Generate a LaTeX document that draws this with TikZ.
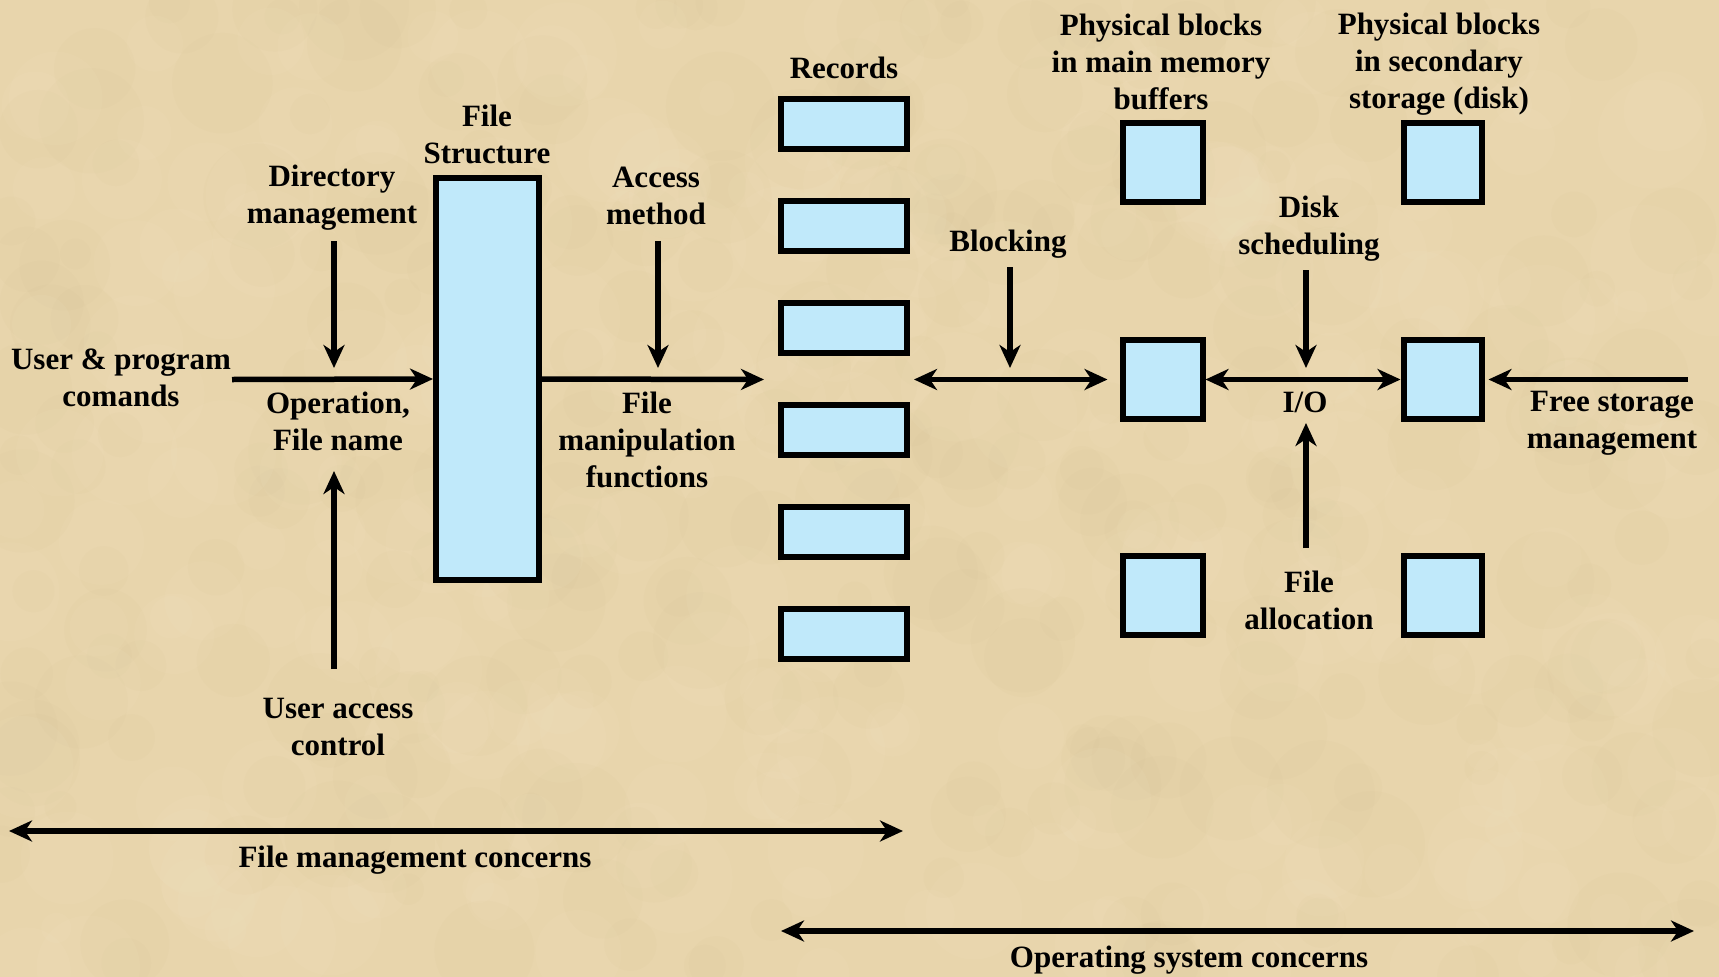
\documentclass[tikz,border=0pt]{standalone}
\usepackage{fontspec}
\setmainfont{Liberation Serif}
\usetikzlibrary{arrows.meta}
\definecolor{bg}{RGB}{232,213,172}
\definecolor{bgdark}{RGB}{205,180,135}
\definecolor{bglight}{RGB}{245,232,200}
\definecolor{boxblue}{RGB}{192,233,250}
\begin{document}
\begin{tikzpicture}[x=1pt,y=-1pt,
  lbl/.style={font=\bfseries\fontsize{31}{37}\selectfont, align=center, inner sep=0pt},
  blk/.style={draw=black, line width=6pt, fill=boxblue, inner sep=0pt},
  tipA/.tip={Stealth[length=23pt,width=21pt,inset=7pt]},
  arr/.style={line width=5.5pt, -tipA},
  darr/.style={line width=5.5pt, tipA-tipA}]
% background
\useasboundingbox (0,0) rectangle (1719,977);
\fill[bg] (0,0) rectangle (1719,977);
\pgfmathsetseed{11}
\begin{scope}
\clip (0,0) rectangle (1719,977);
\foreach \i in {1,...,300}{
  \pgfmathsetmacro{\px}{rnd*1719}
  \pgfmathsetmacro{\py}{rnd*977}
  \pgfmathsetmacro{\pr}{15+rnd*40}
  \fill[bgdark, opacity=0.06] (\px,\py) circle[radius=\pr];
}
\foreach \i in {1,...,300}{
  \pgfmathsetmacro{\px}{rnd*1719}
  \pgfmathsetmacro{\py}{rnd*977}
  \pgfmathsetmacro{\pr}{15+rnd*40}
  \fill[bglight, opacity=0.09] (\px,\py) circle[radius=\pr];
}
\end{scope}

% boxes
\node[blk, minimum width=103pt, minimum height=402pt] (fs) at (487.5,379) {};
\foreach \i/\yy in {1/124,2/226,3/328,4/430,5/532,6/634}{
  \node[blk, minimum width=126pt, minimum height=50pt] (r\i) at (844,\yy) {};
}
\node[blk, minimum width=80pt, minimum height=79pt] (m1) at (1162.5,162.5) {};
\node[blk, minimum width=80pt, minimum height=79pt] (m2) at (1162.5,379.5) {};
\node[blk, minimum width=80pt, minimum height=79pt] (m3) at (1162.5,595.5) {};
\node[blk, minimum width=78pt, minimum height=79pt] (s1) at (1442.5,162.5) {};
\node[blk, minimum width=78pt, minimum height=79pt] (s2) at (1442.5,379.5) {};
\node[blk, minimum width=78pt, minimum height=79pt] (s3) at (1442.5,595.5) {};

% labels
\node[lbl] (fslab) at (487,134) {File\\Structure};
\node[lbl] (dirm) at (332,198) {Directory\\management};
\node[lbl] (upc) at (121,378) {User \& program\\comands};
\node[lbl] (opfn) at (338,421) {Operation,\\File name};
\node[lbl] (uac) at (338,727) {User access\\control};
\node[lbl] (acc) at (656,196) {Access\\method};
\node[lbl] (fmf) at (647,440) {File\\manipulation\\functions};
\node[lbl] (rec) at (844,68) {Records};
\node[lbl] (pbm) at (1161,62) {Physical blocks\\in main memory\\buffers};
\node[lbl] (pbs) at (1439,64) {Physical blocks\\in secondary\\storage (disk)};
\node[lbl] (blkl) at (1008,244) {Blocking};
\node[lbl] (dsk) at (1309,229) {Disk\\scheduling};
\node[lbl] (io) at (1305,402) {I/O};
\node[lbl] (fal) at (1309,600) {File\\allocation};
\node[lbl] (fsm) at (1612,423) {Free storage\\management};
\node[lbl] (fmc) at (415,860) {File management concerns};
\node[lbl] (osc) at (1189,960) {Operating system concerns};

% free ends
\coordinate (upcS) at (232,379.5);
\coordinate (dirS) at (334,241);
\coordinate (dirE) at (334,368);
\coordinate (uacS) at (334,669);
\coordinate (uacE) at (334,471);
\coordinate (accS) at (658,241);
\coordinate (accE) at (658,368);
\coordinate (recIn) at (764,379.5);
\coordinate (recOut) at (914,379.5);
\coordinate (blkS) at (1010,267);
\coordinate (blkE) at (1010,368);
\coordinate (dskS) at (1306,270);
\coordinate (dskE) at (1306,368);
\coordinate (falS) at (1306,548);
\coordinate (falE) at (1306,423);
\coordinate (fsmS) at (1688,379.5);
\coordinate (fmcL) at (9,831);
\coordinate (fmcR) at (903,831);
\coordinate (oscL) at (781,931);
\coordinate (oscR) at (1694,931);

% connectors
\draw[arr] (upcS) -- (fs.west);
\draw[arr] (dirS) -- (dirE);
\draw[arr] (uacS) -- (uacE);
\draw[arr] (fs.east) -- (recIn);
\draw[arr] (accS) -- (accE);
\draw[darr, shorten >=12pt] (recOut) -- (m2.west);
\draw[arr] (blkS) -- (blkE);
\draw[darr] (m2.east) -- (s2.west);
\draw[arr] (dskS) -- (dskE);
\draw[arr] (falS) -- (falE);
\draw[arr, shorten >=4pt] (fsmS) -- (s2.east);
\draw[darr] (fmcL) -- (fmcR);
\draw[darr] (oscL) -- (oscR);
\end{tikzpicture}
\end{document}
